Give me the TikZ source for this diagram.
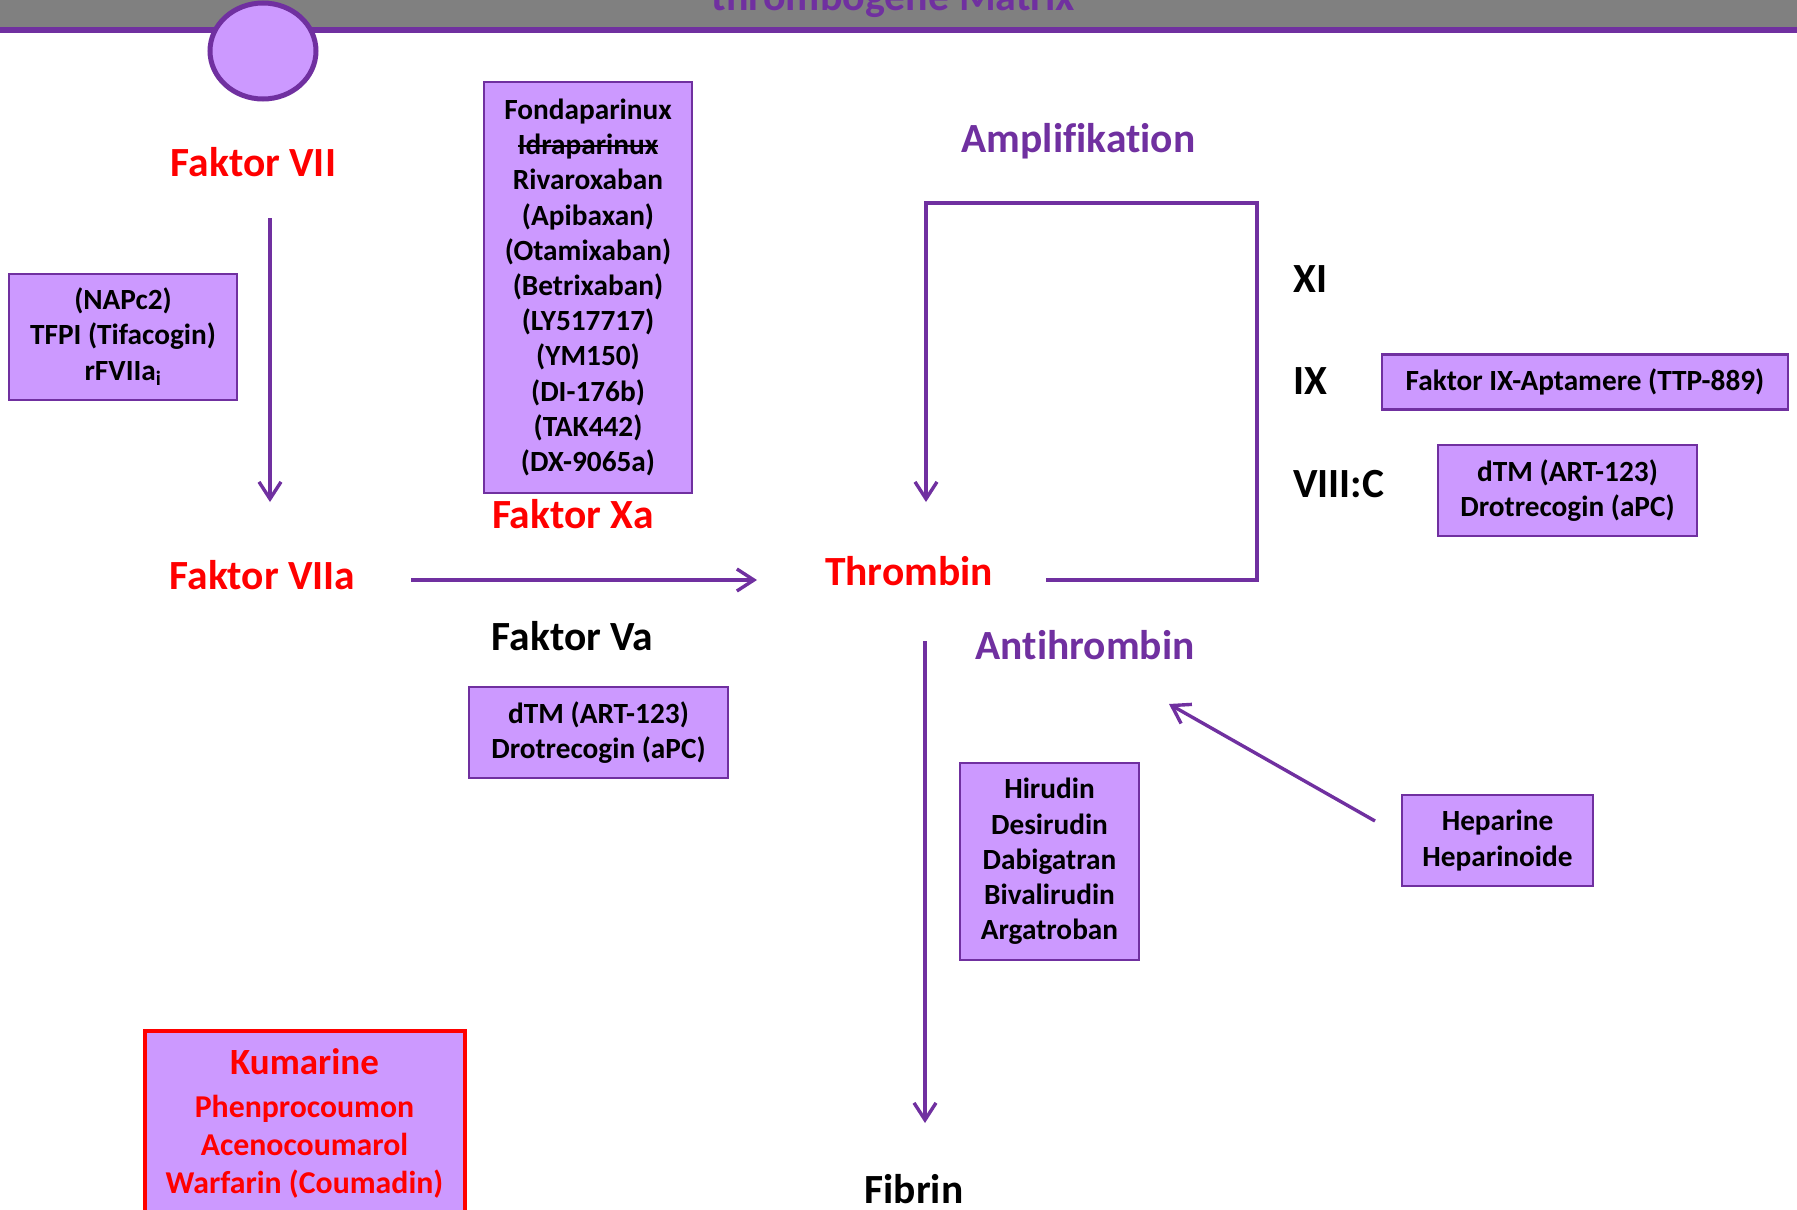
\documentclass[tikz,border=0pt]{standalone}
\usepackage{fontspec}
\setmainfont{Carlito}[Ligatures=NoCommon]
\usetikzlibrary{arrows.meta,shapes.geometric}
\definecolor{pcol}{HTML}{7030A0}
\definecolor{boxfill}{HTML}{CC99FF}
\definecolor{barg}{HTML}{808080}
\newcommand\mystrike[1]{\setbox0\hbox{#1}\rlap{\rule[0.27em]{\wd0}{0.07em}}\box0}
\begin{document}
\begin{tikzpicture}[x=1pt,y=-1pt,
  big/.style={font=\fontsize{41.5}{50}\selectfont\bfseries, inner sep=0pt, anchor=base},
  redlabel/.style={big, text=red},
  purplelabel/.style={big, text=pcol},
  blacklabel/.style={big, text=black},
  drug/.style={draw=pcol, line width=2.5pt, fill=boxfill, inner sep=0pt, align=center,
    font=\fontsize{29.3}{35.2}\selectfont\bfseries},
  arr/.style={draw=pcol, line width=3.4pt, -{Straight Barb[length=17pt,width=22pt]}},
]
\useasboundingbox (0,0) rectangle (1797,1210);
\clip (0,0) rectangle (1797,1210);
\fill[white] (0,0) rectangle (1797,1210);

% top bar
\fill[barg] (0,-5) rectangle (1797,27.3);
\fill[pcol] (0,27.3) rectangle (1797,32.7);
\node[purplelabel, font=\fontsize{42}{50}\selectfont\bfseries] (title) at (893.5,10) {thrombogene Matrix};
\node[ellipse, draw=pcol, line width=5pt, fill=boxfill, minimum width=106, minimum height=96, inner sep=0pt] (dot) at (263,51) {};

% labels
\node[redlabel] (f7) at (253.5,176) {Faktor VII};
\node[redlabel] (f7a) at (262.5,589) {Faktor VIIa};
\node[redlabel] (fxa) at (573,528) {Faktor Xa};
\node[blacklabel] (fva) at (572.5,650) {Faktor Va};
\node[redlabel] (thr) at (909,585) {Thrombin};
\node[purplelabel] (amp) at (1078.5,152) {Amplifikation};
\node[purplelabel] (anti) at (1085,659) {Antihrombin};
\node[blacklabel, anchor=base west] (xi) at (1293,292) {XI};
\node[blacklabel, anchor=base west] (ix) at (1293,394) {IX};
\node[blacklabel, anchor=base west] (viii) at (1293,497) {VIII:C};
\node[blacklabel] (fib) at (914,1203) {Fibrin};

% drug boxes
\node[drug, minimum width=228, minimum height=126] (napc) at (123,337)
  {(NAPc2)\\TFPI (Tifacogin)\\rFVIIa\textsubscript{i}};
\node[drug, minimum width=208, minimum height=411] (fonda) at (588,287.5)
  {Fondaparinux\\\mystrike{Idraparinux}\\Rivaroxaban\\(Apibaxan)\\(Otamixaban)\\(Betrixaban)\\(LY517717)\\(YM150)\\(DI-176b)\\(TAK442)\\(DX-9065a)};
\node[drug, minimum width=406, minimum height=55] (apt) at (1585,382)
  {Faktor IX-Aptamere (TTP-889)};
\node[drug, minimum width=259, minimum height=91] (dtmr) at (1567.5,490.5)
  {dTM (ART-123)\\Drotrecogin (aPC)};
\node[drug, minimum width=259, minimum height=91] (dtmm) at (598.5,732.5)
  {dTM (ART-123)\\Drotrecogin (aPC)};
\node[drug, minimum width=179, minimum height=197] (hir) at (1049.5,861.5)
  {Hirudin\\Desirudin\\Dabigatran\\Bivalirudin\\Argatroban};
\node[drug, minimum width=191, minimum height=91] (hep) at (1497.5,840.5)
  {Heparine\\Heparinoide};
\node[drug, draw=red, line width=4pt, anchor=north west, minimum width=320, minimum height=200] (kum) at (143,1029) {};
\node[redlabel, font=\fontsize{37}{44}\selectfont\bfseries] (kum1) at (304.5,1074) {Kumarine};
\node[redlabel, font=\fontsize{31.8}{38}\selectfont\bfseries] (kum2) at (304.5,1117) {Phenprocoumon};
\node[redlabel, font=\fontsize{31.8}{38}\selectfont\bfseries] (kum3) at (304.5,1155) {Acenocoumarol};
\node[redlabel, font=\fontsize{31.8}{38}\selectfont\bfseries] (kum4) at (304.5,1193) {Warfarin (Coumadin)};

% connector end points
\coordinate (c7s) at (270,218);
\coordinate (c7e) at (270,502);
\coordinate (hs) at (411,580);
\coordinate (he) at (757,580);
\coordinate (ls) at (1046,580);
\coordinate (l1) at (1257,580);
\coordinate (l2) at (1257,203);
\coordinate (l3) at (926,203);
\coordinate (le) at (926,502);
\coordinate (ds) at (925,641);
\coordinate (de) at (925,1123);
\coordinate (ps) at (1375,821);
\coordinate (pe) at (1169,704);

\draw[arr] (c7s) -- (c7e);
\draw[arr] (hs) -- (he);
\draw[arr, line join=miter] (ls) -- (l1) -- (l2) -- (l3) -- (le);
\draw[arr] (ds) -- (de);
\draw[arr] (ps) -- (pe);
\end{tikzpicture}
\end{document}
